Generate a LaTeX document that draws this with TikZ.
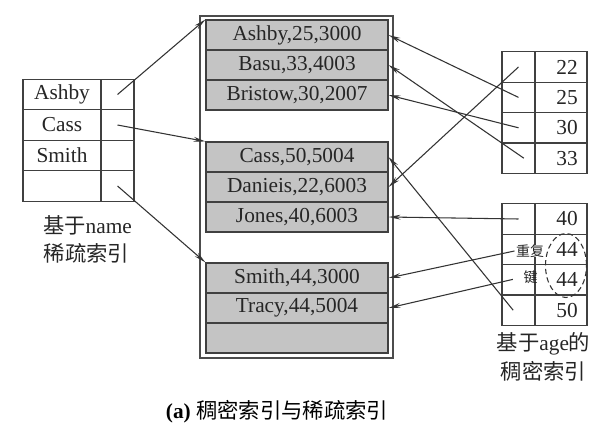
\documentclass[tikz,border=0pt]{standalone}
\usepackage{fontspec}
\setmainfont{Liberation Serif}
\newfontfamily\cjk{Noto Sans CJK SC}
\usetikzlibrary{arrows.meta,shapes.geometric}
\begin{document}
\begin{tikzpicture}[x=0.75pt,y=-0.75pt,
  lat/.style={font=\fontsize{16}{19}\selectfont, text=black!85},
  cell/.style={lat, draw=black!75, line width=0.8pt, inner sep=0pt, minimum height=30.4*0.75pt},
  namecell/.style={cell, minimum width=78*0.75pt},
  ptrcell/.style={cell, minimum width=33*0.75pt},
  valcell/.style={cell, minimum width=52*0.75pt},
  rec/.style={cell, fill=black!23, minimum width=182*0.75pt, minimum height=30*0.75pt},
  filebox/.style={draw=black!70, line width=0.9pt, inner sep=0pt},
  lbl/.style={font=\fontsize{16}{19}\selectfont, text=black!85, inner sep=0pt},
  dup/.style={font=\cjk\fontsize{10.5}{12}\selectfont, text=black!85, inner sep=0pt},
  arr/.style={draw=black!80, line width=0.8pt, -{Stealth[length=9pt,width=3.6pt]}},
  ring/.style={draw=black!80, line width=0.8pt, dash pattern=on 4pt off 2.5pt, ellipse, inner sep=0pt, minimum width=41*0.75pt, minimum height=64*0.75pt}
]
\useasboundingbox[fill=white] (0,0) rectangle (597,435);

% data file
\node[filebox, minimum width=193*0.75pt, minimum height=342*0.75pt] (file) at (296.5,187) {};
\node[rec] (r1) at (297,35) {Ashby,25,3000};
\node[rec] (r2) at (297,65) {Basu,33,4003};
\node[rec] (r3) at (297,95) {Bristow,30,2007};
\node[rec] (r4) at (297,157) {Cass,50,5004};
\node[rec] (r5) at (297,187) {Danieis,22,6003};
\node[rec] (r6) at (297,217) {Jones,40,6003};
\node[rec] (r7) at (297,278) {Smith,44,3000};
\node[rec] (r8) at (297,308) {Tracy,44,5004};
\node[rec] (r9) at (297,338) {};

% sparse index on name
\node[namecell] (ln1) at (62,94.5) {Ashby};
\node[ptrcell]  (lp1) at (117.5,94.5) {};
\node[namecell] (ln2) at (62,125) {Cass};
\node[ptrcell]  (lp2) at (117.5,125) {};
\node[namecell] (ln3) at (62,155.5) {Smith};
\node[ptrcell]  (lp3) at (117.5,155.5) {};
\node[namecell] (ln4) at (62,186) {};
\node[ptrcell]  (lp4) at (117.5,186) {};
\node[lbl] (lname1) at (87.5,225) {{\cjk 基于}name};
\node[lbl] (lname2) at (86.5,253) {\cjk 稀疏索引};

% dense index on age (top)
\node[ptrcell] (ap1) at (518.5,67) {};
\node[valcell] (av1) at (561,67) {\hspace*{9pt}22};
\node[ptrcell] (ap2) at (518.5,97.4) {};
\node[valcell] (av2) at (561,97.4) {\hspace*{9pt}25};
\node[ptrcell] (ap3) at (518.5,127.8) {};
\node[valcell] (av3) at (561,127.8) {\hspace*{9pt}30};
\node[ptrcell] (ap4) at (518.5,158.2) {};
\node[valcell] (av4) at (561,158.2) {\hspace*{9pt}33};

% dense index on age (bottom)
\node[ptrcell] (bp1) at (518.5,219) {};
\node[valcell] (bv1) at (561,219) {\hspace*{9pt}40};
\node[ptrcell] (bp2) at (518.5,249.4) {};
\node[valcell] (bv2) at (561,249.4) {\hspace*{9pt}44};
\node[ptrcell] (bp3) at (518.5,279.8) {};
\node[valcell] (bv3) at (561,279.8) {\hspace*{9pt}44};
\node[ptrcell] (bp4) at (518.5,310.2) {};
\node[valcell] (bv4) at (561,310.2) {\hspace*{9pt}50};
\node[ring] (ring) at (566,265.5) {};
\node[dup, fill=white, inner xsep=1pt] (dupa) at (530,251) {重复};
\node[dup] (dupb) at (530.5,277) {键};
\node[lbl] (lage1) at (543.5,344) {{\cjk 基于}age{\cjk 的}};
\node[lbl] (lage2) at (543.5,371) {\cjk 稠密索引};

% sparse index pointers
\draw[arr] (lp1.center) -- (r1.north west);
\draw[arr] (lp2.center) -- (r4.north west);
\draw[arr] (lp4.center) -- (r7.north west);

% dense index pointers
\draw[arr] (ap1.center) -- (r5.east);
\draw[arr] (ap2.center) -- (r1.east);
\draw[arr] (ap3.center) -- (r3.east);
\draw[arr] ([xshift=4pt]ap4.center) -- (r2.east);
\draw[arr] (bp1.center) -- (r6.east);
\draw[arr] (dupa.west) -- (r7.east);
\draw[arr, shorten <=8pt] (dupb.west) -- (r8.east);
\draw[arr] ([xshift=-4pt]bp4.center) -- (r4.east);

% caption
\node[lbl, text=black] (cap) at (277,412) {\textbf{(a)} {\cjk 稠密索引与稀疏索引}};
\end{tikzpicture}
\end{document}
